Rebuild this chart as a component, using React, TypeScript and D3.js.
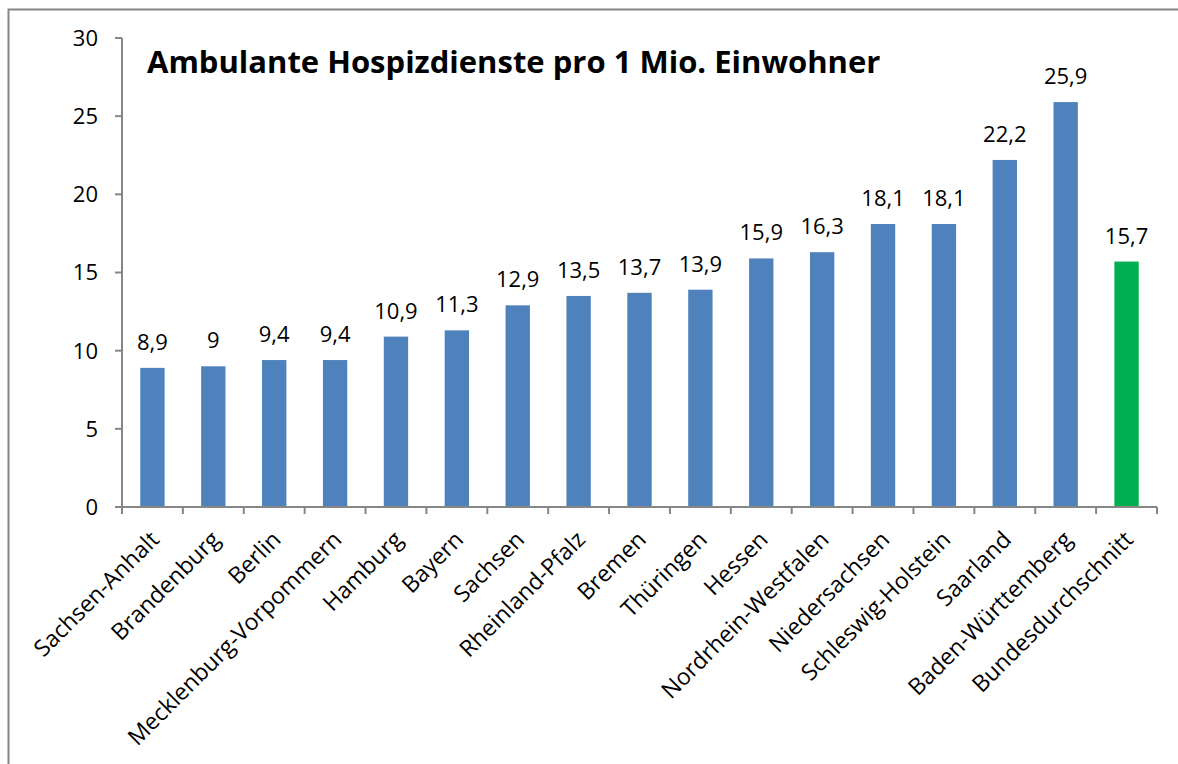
import React from "react";
import * as d3 from "d3";

const categories = [
  "Sachsen-Anhalt", "Brandenburg", "Berlin", "Mecklenburg-Vorpommern", "Hamburg", "Bayern",
  "Sachsen", "Rheinland-Pfalz", "Bremen", "Thüringen", "Hessen", "Nordrhein-Westfalen",
  "Niedersachsen", "Schleswig-Holstein", "Saarland", "Baden-Württemberg", "Bundesdurchschnitt",
];
const values = [8.9, 9, 9.4, 9.4, 10.9, 11.3, 12.9, 13.5, 13.7, 13.9, 15.9, 16.3, 18.1, 18.1, 22.2, 25.9, 15.7];
const highlight = ["Bundesdurchschnitt"];
const yTicks = [0, 5, 10, 15, 20, 25, 30];
const title = "Ambulante Hospizdienste pro 1 Mio. Einwohner";

const W = 1178, H = 764;
const left = 122, right = 1157, top = 38, bottom = 507;
const font = "'Open Sans', sans-serif";

export default function App() {
  const x = d3.scaleBand<string>().domain(categories).range([left, right]).paddingInner(0.6).paddingOuter(0.3);
  const y = d3.scaleLinear().domain([0, 30]).range([bottom, top]);
  const step = (right - left) / categories.length;
  const fmt = (v: number) => String(v).replace(".", ",");
  return (
    <svg width={W} height={H} style={{ position: "absolute", left: 0, top: 0 }} fontFamily={font}>
      <rect x={0} y={0} width={W} height={H} fill="#fff" />
      <rect x={8.5} y={9.5} width={1175} height={800} fill="none" stroke="#868686" strokeWidth={2} />
      {categories.map((c, i) => (
        <rect key={c} x={x(c)} y={y(values[i])} width={x.bandwidth()} height={bottom - y(values[i])}
          fill={highlight.includes(c) ? "#00B050" : "#4F81BD"} />
      ))}
      <line x1={left} x2={left} y1={top} y2={bottom} stroke="#868686" strokeWidth={2} />
      {yTicks.map(t => (
        <g key={t}>
          <line x1={left - 7} x2={left} y1={y(t)} y2={y(t)} stroke="#868686" strokeWidth={2} />
          <text x={98} y={y(t)} dy="0.36em" textAnchor="end" fontSize={22} fill="#000">{t}</text>
        </g>
      ))}
      <line x1={left} x2={right} y1={bottom} y2={bottom} stroke="#868686" strokeWidth={2} />
      {d3.range(categories.length + 1).map(i => (
        <line key={i} x1={left + i * step} x2={left + i * step} y1={bottom} y2={bottom + 7} stroke="#868686" strokeWidth={2} />
      ))}
      {categories.map((c, i) => (
        <text key={"v" + c} x={x(c)! + x.bandwidth() / 2} y={y(values[i]) - 18} textAnchor="middle" fontSize={22} fill="#000">
          {fmt(values[i])}
        </text>
      ))}
      {categories.map(c => {
        const cx = x(c)! + x.bandwidth() / 2 + 8;
        const cy = bottom + 34;
        return (
          <text key={"l" + c} transform={`translate(${cx},${cy}) rotate(-45)`} textAnchor="end" fontSize={23} fill="#000">
            {c}
          </text>
        );
      })}
      <text x={147} y={73} fontSize={31} fontWeight="bold" fill="#000">{title}</text>
    </svg>
  );
}
